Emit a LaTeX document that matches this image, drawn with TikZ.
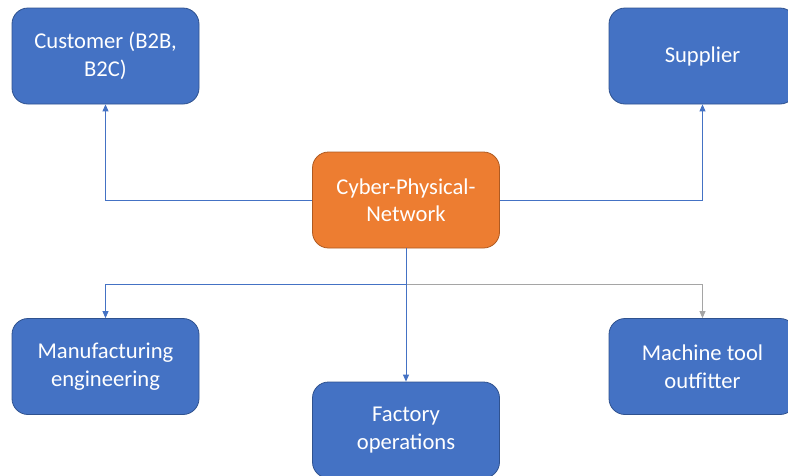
\documentclass[tikz,border=0pt]{standalone}
\usepackage{fontspec}
\setmainfont{Carlito}
\usetikzlibrary{arrows.meta,calc}
\definecolor{boxblue}{HTML}{4472C4}
\definecolor{boxblueedge}{HTML}{2F528F}
\definecolor{boxorange}{HTML}{ED7D31}
\definecolor{boxorangeedge}{HTML}{AE5A21}
\definecolor{linegray}{HTML}{A5A5A5}
\tikzset{
  card/.style={draw=boxblueedge, line width=0.8pt, fill=boxblue, rounded corners=16pt,
    minimum width=187pt, minimum height=96pt, text=white, align=center,
    font=\fontsize{22.6}{27.5}\selectfont, inner sep=0pt},
  hub/.style={card, draw=boxorangeedge, fill=boxorange},
  link/.style={draw=boxblue, line width=0.9pt, -{Triangle[length=7pt,width=6pt]}},
  graylink/.style={link, draw=linegray, -{Triangle[length=7pt,width=6pt,fill=linegray]}},
}
\begin{document}
\begin{tikzpicture}[x=1pt,y=-1pt]
\useasboundingbox (0,0) rectangle (788,475);
\clip (0,0) rectangle (788,475);
% boxes
\node[card] (cust) at (105.5,56) {Customer (B2B,\\B2C)};
\node[card] (supp) at (702.5,56) {Supplier};
\node[hub]  (cpn)  at (406,200) {Cyber-Physical-\\Network};
\node[card] (manu) at (105.5,366.5) {Manufacturing\\engineering};
\node[card] (mach) at (702.5,366.5) {Machine tool\\outfitter};
\node[card] (fact) at (406,430) {Factory\\operations};
% branching point below the hub
\coordinate (j) at (406,284);
% connectors
\draw[link] (cpn.west) -| (cust.south);
\draw[link] (cpn.east) -| (supp.south);
\draw[link] (cpn.south) -- (j) -| (manu.north);
\draw[graylink] (j) -| (mach.north);
\draw[link] (j) -- (fact.north);
\end{tikzpicture}
\end{document}
